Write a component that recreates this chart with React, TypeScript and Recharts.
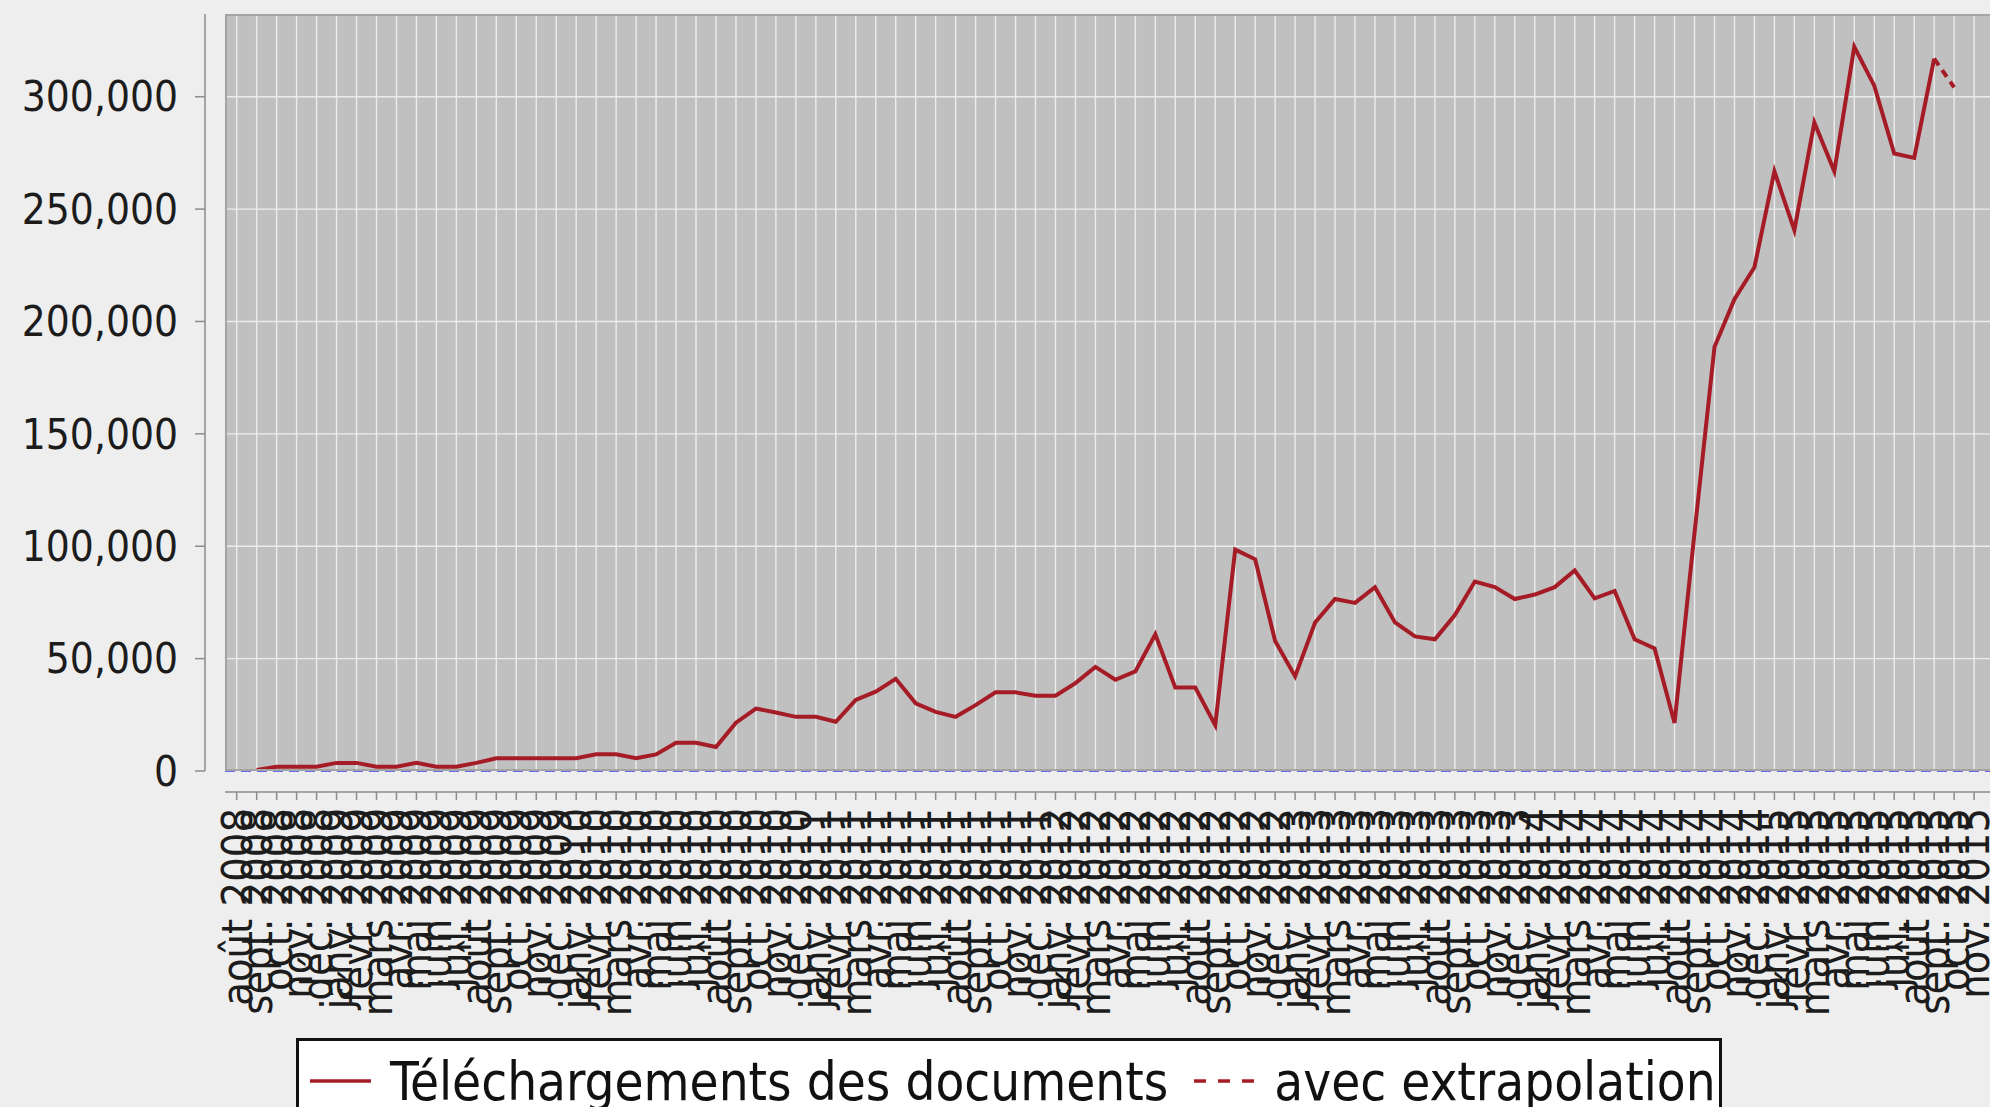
import React from 'react';
import { LineChart, Line, XAxis, YAxis, CartesianGrid, ReferenceLine, Legend } from 'recharts';

// month categories (French short month names, as in the source chart)
const months2008 = ['août 2008', 'sept. 2008', 'oct. 2008', 'nov. 2008', 'déc. 2008'];
const months2009 = ['janv. 2009', 'févr. 2009', 'mars 2009', 'avr. 2009', 'mai 2009', 'juin 2009', 'juil. 2009', 'août 2009', 'sept. 2009', 'oct. 2009', 'nov. 2009', 'déc. 2009'];
const months2010 = ['janv. 2010', 'févr. 2010', 'mars 2010', 'avr. 2010', 'mai 2010', 'juin 2010', 'juil. 2010', 'août 2010', 'sept. 2010', 'oct. 2010', 'nov. 2010', 'déc. 2010'];
const months2011 = ['janv. 2011', 'févr. 2011', 'mars 2011', 'avr. 2011', 'mai 2011', 'juin 2011', 'juil. 2011', 'août 2011', 'sept. 2011', 'oct. 2011', 'nov. 2011', 'déc. 2011'];
const months2012 = ['janv. 2012', 'févr. 2012', 'mars 2012', 'avr. 2012', 'mai 2012', 'juin 2012', 'juil. 2012', 'août 2012', 'sept. 2012', 'oct. 2012', 'nov. 2012', 'déc. 2012'];
const months2013 = ['janv. 2013', 'févr. 2013', 'mars 2013', 'avr. 2013', 'mai 2013', 'juin 2013', 'juil. 2013', 'août 2013', 'sept. 2013', 'oct. 2013', 'nov. 2013', 'déc. 2013'];
const months2014 = ['janv. 2014', 'févr. 2014', 'mars 2014', 'avr. 2014', 'mai 2014', 'juin 2014', 'juil. 2014', 'août 2014', 'sept. 2014', 'oct. 2014', 'nov. 2014', 'déc. 2014'];
const months2015 = ['janv. 2015', 'févr. 2015', 'mars 2015', 'avr. 2015', 'mai 2015', 'juin 2015', 'juil. 2015', 'août 2015', 'sept. 2015', 'oct. 2015', 'nov. 2015'];

const categories = [
  ...months2008, ...months2009, ...months2010, ...months2011,
  ...months2012, ...months2013, ...months2014, ...months2015,
];

// monthly document downloads
const downloads: (number | null)[] = [
  null, 500, 1900, 1900, 1900, 3600, 3600, 1900, 1900, 3600, 1900, 1900,
  3600, 5700, 5700, 5700, 5700, 5700, 7400, 7400, 5700, 7400, 12600, 12600,
  10700, 21500, 27800, 26000, 24100, 24100, 21900, 31600, 35300, 41000, 30100, 26300,
  24100, 29300, 35000, 35000, 33500, 33500, 39100, 46300, 40600, 44300, 60800, 37100,
  37100, 20400, 98500, 94200, 57800, 42100, 66100, 76500, 74800, 81800, 66100, 59900,
  58600, 69400, 84300, 81800, 76500, 78500, 81800, 89200, 76800, 80100, 58600, 54500,
  21400, 106000, 188600, 209900, 224100, 266800, 240600, 288500, 266800, 322200, 304900, 274700,
  272800, 316900, null, null,
];

// extrapolated last month (dashed segment)
const extrapolated: (number | null)[] = [
  ...Array(85).fill(null), 316900, 304200, null,
];

const yTicks = [0, 50000, 100000, 150000, 200000, 250000, 300000];

const data = categories.map((month, i) => ({
  month,
  downloads: downloads[i],
  extrapolated: extrapolated[i],
}));

const FONT = "'DejaVu Sans Condensed', 'DejaVu Sans', sans-serif";
const RED = '#a51c26';
const AXIS = '#8c8c8c';
const TEXT = '#1c1c1c';

const XTick = (props: any) => {
  const { x, y, payload } = props;
  const ty = y + 37;
  return (
    <g>
      <line x1={x} x2={x} y1={y + 21} y2={y + 29} stroke={AXIS} strokeWidth={1.5} />
      <text
        x={x}
        y={ty}
        transform={`rotate(-90 ${x} ${ty})`}
        textAnchor="end"
        dy="0.35em"
        fontSize={43}
        fontFamily={FONT}
        style={{ fontStretch: 'condensed' }}
        fill={TEXT}
      >
        {payload.value}
      </text>
    </g>
  );
};

const YTick = (props: any) => {
  const { x, y, payload } = props;
  return (
    <g>
      <line x1={x - 30} x2={x - 20} y1={y} y2={y} stroke={AXIS} strokeWidth={1.5} />
      <text
        x={x - 47}
        y={y}
        dy="0.35em"
        textAnchor="end"
        fontSize={42}
        fontFamily={FONT}
        style={{ fontStretch: 'condensed' }}
        fill={TEXT}
      >
        {Number(payload.value).toLocaleString('en-US')}
      </text>
    </g>
  );
};

const renderLegend = (props: any) => {
  const { payload = [] } = props;
  return (
    <div
      style={{
        boxSizing: 'border-box',
        width: 1426,
        height: 100,
        background: '#fff',
        border: '3px solid #111',
        display: 'flex',
        alignItems: 'flex-start',
        paddingLeft: 11,
      }}
    >
      {payload.map((entry: any, i: number) => (
        <div key={`item-${i}`} style={{ display: 'flex', alignItems: 'center', height: 80, marginRight: 26 }}>
          <svg width={61} height={10}>
            <line
              x1={0}
              x2={61}
              y1={5}
              y2={5}
              stroke={entry.color}
              strokeWidth={3.5}
              strokeDasharray={entry.dataKey === 'extrapolated' ? '12 12' : undefined}
            />
          </svg>
          <span
            style={{
              marginLeft: 19,
              fontFamily: FONT,
              fontStretch: 'condensed',
              fontSize: 52.5,
              color: '#111',
              whiteSpace: 'nowrap',
            }}
          >
            {entry.value}
          </span>
        </div>
      ))}
    </div>
  );
};

export default function App() {
  return (
    <div
      style={{
        position: 'absolute',
        left: 0,
        top: 0,
        width: 1990,
        height: 1107,
        overflow: 'hidden',
        background: '#eeeeee',
      }}
    >
      <LineChart
        width={2000}
        height={1107}
        data={data}
        margin={{ top: 14, right: 5, bottom: 0, left: 0 }}
      >
        <CartesianGrid
          fill="#c0c0c0"
          stroke="#ececec"
          strokeWidth={1.4}
          horizontal={{ strokeDasharray: '10 9' }}
          vertical={{ strokeDasharray: '6 14' }}
        />
        <XAxis
          dataKey="month"
          scale="point"
          interval={0}
          height={336}
          padding={{ left: 11.7, right: 20.9 }}
          tickSize={0}
          tickMargin={0}
          tickLine={false}
          tick={<XTick />}
          axisLine={{ stroke: AXIS, strokeWidth: 1.5, transform: 'translate(0 21)' }}
        />
        <YAxis
          width={225}
          domain={[0, 336800]}
          ticks={yTicks}
          allowDataOverflow
          tickSize={0}
          tickMargin={0}
          tickLine={false}
          tick={<YTick />}
          axisLine={{ stroke: AXIS, strokeWidth: 1.5, transform: 'translate(-20 0)' }}
        />
        <ReferenceLine y={0} stroke="#6868ec" strokeWidth={2.2} strokeDasharray="10 6" />
        <Line
          type="linear"
          dataKey="downloads"
          name="Téléchargements des documents"
          stroke={RED}
          strokeWidth={4}
          dot={false}
          isAnimationActive={false}
        />
        <Line
          type="linear"
          dataKey="extrapolated"
          name="avec extrapolation"
          stroke={RED}
          strokeWidth={4}
          strokeDasharray="8 6"
          dot={false}
          isAnimationActive={false}
        />
        <Legend
          layout="horizontal"
          verticalAlign="middle"
          align="center"
          wrapperStyle={{ left: 296, top: 1038, width: 1426 }}
          content={renderLegend}
        />
      </LineChart>
      <div
        style={{
          position: 'absolute',
          left: 225,
          top: 14,
          width: 1790,
          height: 757,
          boxSizing: 'border-box',
          border: '2px solid #a4a4a4',
          pointerEvents: 'none',
        }}
      />
    </div>
  );
}
